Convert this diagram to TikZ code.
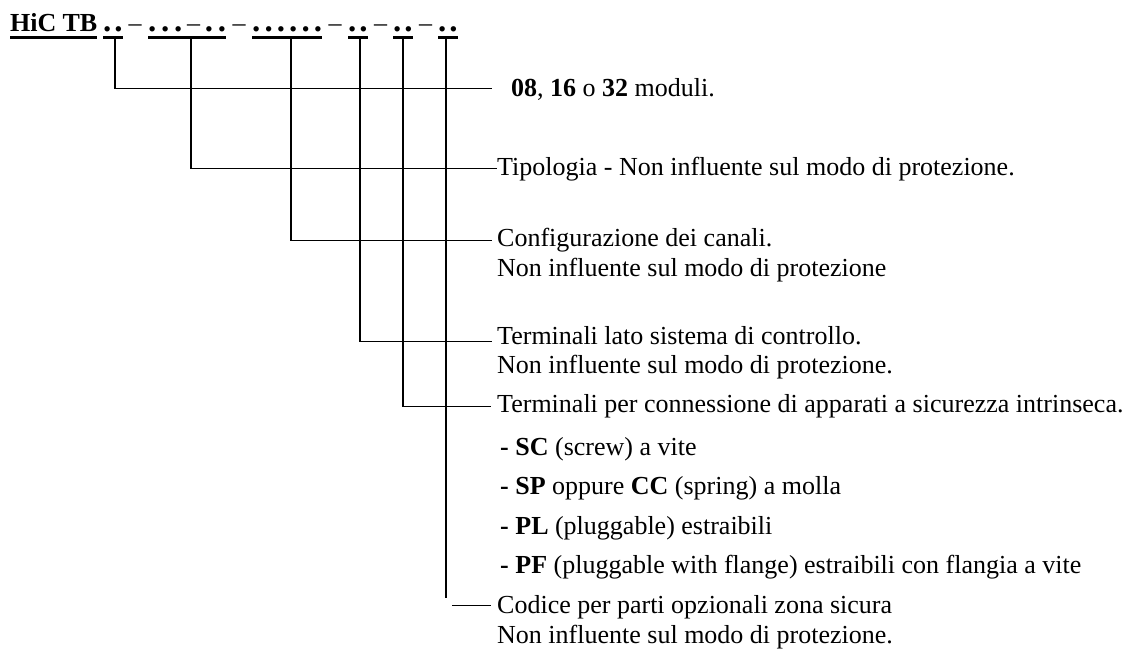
\documentclass[tikz,border=0pt]{standalone}
\usepackage{fontspec}
\setmainfont{Liberation Serif}
\usetikzlibrary{positioning}

% code field of given width, heavy underline
\newcommand{\hdrline}[2]{\setbox0\hbox to #1{#2}\rlap{\rule[-7pt]{\wd0}{2.5pt}}\box0}

\tikzset{
  hdr/.style={font=\fontsize{33}{30}\selectfont\bfseries, inner sep=0pt, anchor=base west},
  sep/.style={font=\fontsize{26}{30}\selectfont, inner sep=0pt, anchor=base},
  lbl/.style={font=\fontsize{26}{30}\selectfont, inner sep=0pt, anchor=base west},
  wire/.style={line width=1.6pt}
}

\begin{document}
\begin{tikzpicture}[x=1pt,y=-1pt]
\useasboundingbox (0,0) rectangle (1126,650);

% code header
\node[hdr, font=\fontsize{26}{30}\selectfont\bfseries] (hic) at (10,32) {\hdrline{87pt}{HiC\hfill TB}};
\node[hdr] (g1) at (103,32) {\hdrline{19.5pt}{.\hfill.}};
\node[sep] (d1) at (135,32) {–};
\node[hdr] (g2) at (148,32) {\hdrline{78pt}{.\hfill.\hfill.\hfill{\mdseries\fontsize{26}{30}\selectfont –}\hfill.\hfill.}};
\node[sep] (d2) at (239,32) {–};
\node[hdr] (g3) at (252,32) {\hdrline{70pt}{.\hfill.\hfill.\hfill.\hfill.\hfill.}};
\node[sep] (d3) at (335,32) {–};
\node[hdr] (g4) at (348,32) {\hdrline{19.5pt}{.\hfill.}};
\node[sep] (d4) at (380.5,32) {–};
\node[hdr] (g5) at (393,32) {\hdrline{19.5pt}{.\hfill.}};
\node[sep] (d5) at (425.5,32) {–};
\node[hdr] (g6) at (438,32) {\hdrline{19.5pt}{.\hfill.}};

% labels
\node[lbl] (n1) at (511,97) {\textbf{08}, \textbf{16} o \textbf{32} moduli.};
\node[lbl] (n2) at (497,175) {Tipologia - Non influente sul modo di protezione.};
\node[lbl] (n3) at (497,246.5) {Configurazione dei canali.};
\node[lbl] (n3b) at (497,276.5) {Non influente sul modo di protezione};
\node[lbl] (n4) at (497,344) {Terminali lato sistema di controllo.};
\node[lbl] (n4b) at (497,373) {Non influente sul modo di protezione.};
\node[lbl] (n5) at (497,412) {Terminali per connessione di apparati a sicurezza intrinseca.};
\node[lbl] (b1) at (500,455) {\textbf{- SC} (screw) a vite};
\node[lbl] (b2) at (500,494) {\textbf{- SP} oppure \textbf{CC} (spring) a molla};
\node[lbl] (b3) at (500,534) {\textbf{- PL} (pluggable) estraibili};
\node[lbl] (b4) at (500,573) {\textbf{- PF} (pluggable with flange) estraibili con flangia a vite};
\node[lbl] (n6) at (497,613) {Codice per parti opzionali zona sicura};
\node[lbl] (n6b) at (497,643) {Non influente sul modo di protezione.};

% line ends
\coordinate (e1) at (492,88.5);
\coordinate (e2) at (497,168.5);
\coordinate (e3) at (492,240.5);
\coordinate (e4) at (492,341.5);
\coordinate (e5) at (491,406.5);
\coordinate (e6) at (446,598);
\coordinate (k1) at (452,605.5);
\coordinate (k2) at (491,605.5);

\draw[wire] ([xshift=2pt]g1.south) |- (e1);
\draw[wire] ([xshift=4pt]g2.south) |- (e2);
\draw[wire] ([xshift=4pt]g3.south) |- (e3);
\draw[wire] ([xshift=2pt]g4.south) |- (e4);
\draw[wire] (g5.south) |- (e5);
\draw[wire] ([xshift=-2pt]g6.south) -- ([xshift=-2pt]g6.south |- e6);
\draw[wire] (k1) -- (k2);
\end{tikzpicture}
\end{document}
